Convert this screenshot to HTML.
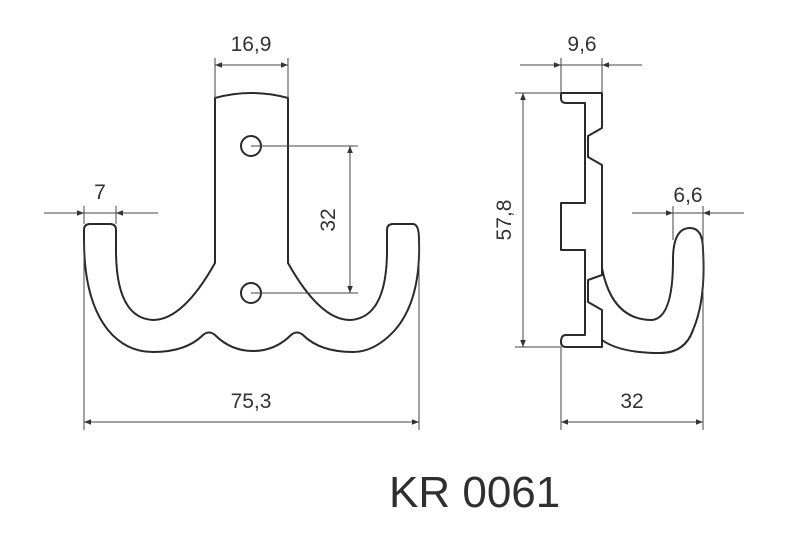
<!DOCTYPE html>
<html><head><meta charset="utf-8"><style>
html,body{margin:0;padding:0;background:#fff;}
svg{display:block;}
text{font-family:"Liberation Sans",sans-serif;fill:#333;}
</style></head><body>
<svg width="800" height="533" viewBox="0 0 800 533" xmlns="http://www.w3.org/2000/svg">
<defs>
<marker id="a" viewBox="0 0 10 10" refX="10" refY="5" markerWidth="10" markerHeight="7" orient="auto-start-reverse" markerUnits="userSpaceOnUse"><path d="M0,1 L10,5 L0,9 z" fill="#333"/></marker>
</defs>
<g fill="none" stroke="#2a2a2a" stroke-width="2" stroke-linejoin="round">
<!-- front view -->
<path d="M215,263 L215,98 Q251,88 288,98 L288,263 Q320,320 350,320 Q387,318 387,250 L387,230 Q387,224 393,224 L413,224 Q419,224 419,240 Q421,300 395,330 Q375,352 353,352 Q320,352 303,335 Q297,330 291,335 Q275,351 253,351 Q231,351 215,335 Q209,330 203,335 Q186,352 153,352 Q126,352 108,330 Q84,300 84,240 L84,230 Q84,224 90,224 L110,224 Q116,224 116,230 L116,250 Q116,318 153,320 Q183,320 215,263 Z"/>
<circle cx="251" cy="146" r="10"/>
<circle cx="251" cy="293" r="10"/>
<!-- side view -->
<path d="M561,93 L602,93 L602,128 L588,136 L588,157 L602,165 L602,275 L588,280 L588,302 L602,310 L602,347 L566,347 Q561,347 561,342 Q561,335 566,335 L585,335 L585,250 L561,250 L561,203 L585,203 L585,103 L566,103 Q561,103 561,98 Z"/>
<path d="M602,268 Q612,320 652,320 Q673,318 673,260 Q673,228 690,228 Q703,228 703,250 Q706,300 693,330 Q685,353 660,353 Q620,353 602,340"/>
</g>
<g fill="none" stroke="#444" stroke-width="1">
<!-- 16,9 -->
<line x1="215" y1="58" x2="215" y2="98"/><line x1="288" y1="58" x2="288" y2="98"/>
<line x1="215" y1="65" x2="288" y2="65" marker-start="url(#a)" marker-end="url(#a)"/>
<!-- 32 holes -->
<line x1="251" y1="146" x2="358" y2="146"/><line x1="251" y1="293" x2="358" y2="293"/>
<line x1="350" y1="146" x2="350" y2="293" marker-start="url(#a)" marker-end="url(#a)"/>
<!-- 7 -->
<line x1="44" y1="213" x2="84" y2="213" marker-end="url(#a)"/>
<line x1="158" y1="213" x2="116" y2="213" marker-end="url(#a)"/>
<line x1="84" y1="213" x2="116" y2="213"/>
<line x1="84" y1="206" x2="84" y2="224"/><line x1="116" y1="206" x2="116" y2="224"/>
<!-- 75,3 -->
<line x1="84" y1="240" x2="84" y2="430"/><line x1="419" y1="240" x2="419" y2="430"/>
<line x1="84" y1="422" x2="419" y2="422" marker-start="url(#a)" marker-end="url(#a)"/>
<!-- 9,6 -->
<line x1="561" y1="58" x2="561" y2="93"/><line x1="602" y1="58" x2="602" y2="93"/>
<line x1="520" y1="65" x2="561" y2="65" marker-end="url(#a)"/>
<line x1="642" y1="65" x2="602" y2="65" marker-end="url(#a)"/>
<line x1="561" y1="65" x2="602" y2="65"/>
<!-- 57,8 -->
<line x1="515" y1="93" x2="561" y2="93"/><line x1="515" y1="347" x2="561" y2="347"/>
<line x1="523" y1="93" x2="523" y2="347" marker-start="url(#a)" marker-end="url(#a)"/>
<!-- 6,6 -->
<line x1="632" y1="213" x2="673" y2="213" marker-end="url(#a)"/>
<line x1="744" y1="213" x2="703" y2="213" marker-end="url(#a)"/>
<line x1="673" y1="213" x2="703" y2="213"/>
<line x1="673" y1="206" x2="673" y2="240"/><line x1="703" y1="206" x2="703" y2="430"/>
<!-- 32 side -->
<line x1="561" y1="347" x2="561" y2="430"/>
<line x1="561" y1="422" x2="703" y2="422" marker-start="url(#a)" marker-end="url(#a)"/>
</g>
<g font-size="21">
<text x="251" y="51" text-anchor="middle">16,9</text>
<text x="100" y="199" text-anchor="middle">7</text>
<text x="251" y="408" text-anchor="middle">75,3</text>
<text x="582" y="51" text-anchor="middle">9,6</text>
<text x="688" y="202" text-anchor="middle">6,6</text>
<text x="632" y="408" text-anchor="middle">32</text>
<text transform="translate(335,220) rotate(-90)" text-anchor="middle">32</text>
<text transform="translate(511,220) rotate(-90)" text-anchor="middle">57,8</text>
</g>
<text x="389" y="507" font-size="44" style="fill:#2f2f2f">KR 0061</text>
</svg>
</body></html>
